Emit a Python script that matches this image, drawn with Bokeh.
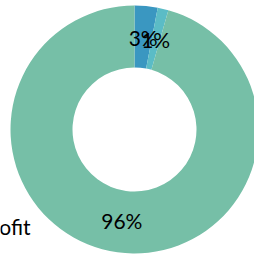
import numpy as np
from bokeh.plotting import figure
from bokeh.models import Range1d, ColumnDataSource
from bokeh.core.properties import value
from bokeh.embed import file_html
from bokeh.resources import INLINE

categories = ["Public", "Other", "Nonprofit"]
shares = [3.0, 1.4, 95.6]
labels = ["3%", "1%", "96%"]
colors = ["#3a97c1", "#5bbcc6", "#76bfa7"]
side_label = "Nonprofit"

W, H = 254, 256
cx, cy = 134, 127
r_out, r_in, r_lab = 124, 62, 92

frac = np.array(shares) / sum(shares)
ends = np.cumsum(frac) * 2 * np.pi
starts = ends - frac * 2 * np.pi
start_ang = np.pi / 2 - starts
end_ang = np.pi / 2 - ends
mid = np.pi / 2 - (starts + ends) / 2

src = ColumnDataSource(dict(
    cat=categories, start=start_ang, end=end_ang, color=colors,
    lx=cx + r_lab * np.cos(mid), ly=cy + r_lab * np.sin(mid), lab=labels,
))

p = figure(width=W, height=H, x_range=Range1d(0, W), y_range=Range1d(0, H),
           output_backend="svg", toolbar_location=None, min_border=0)
p.axis.visible = False
p.grid.visible = False
p.outline_line_color = None
p.background_fill_color = "white"

p.annular_wedge(x=cx, y=cy, inner_radius=r_in, outer_radius=r_out,
                start_angle="start", end_angle="end", direction="clock",
                fill_color="color", line_color=None, source=src)

p.text(x="lx", y="ly", text="lab", source=src, text_align="center",
       text_baseline="middle", text_font=value("Lato"), text_font_size="21px",
       text_color="#000000")

p.text(x=[30], y=[H - 226], text=[side_label], text_align="right",
       text_baseline="alphabetic", text_font=value("Lato"), text_font_size="21px",
       text_color="#000000")

html = file_html(p, INLINE)
html = html.replace("<body>", '<body style="margin:0">', 1)
open("out.html", "w").write(html)
